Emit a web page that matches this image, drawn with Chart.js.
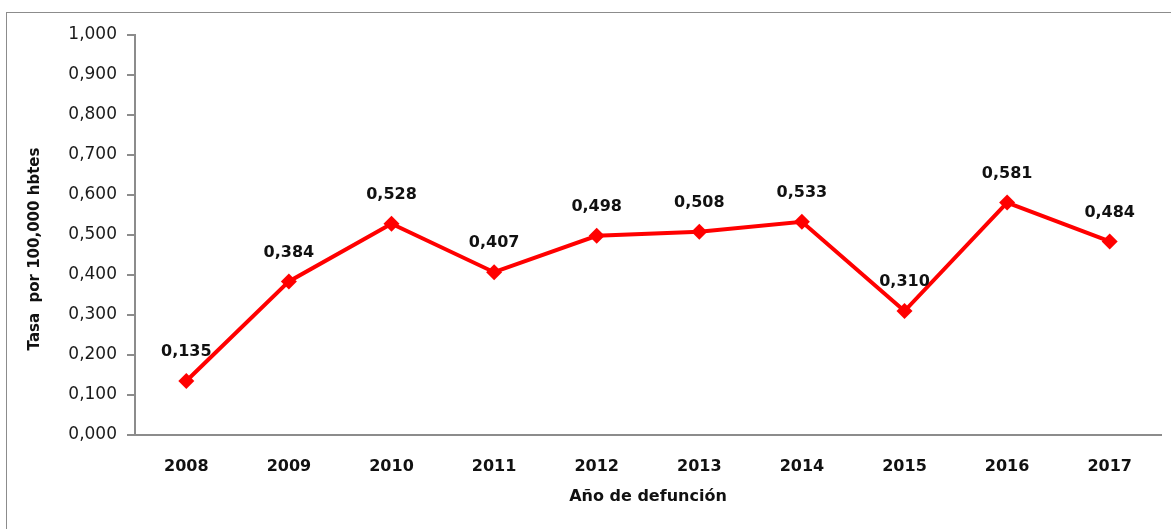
<!DOCTYPE html>
<html>
<head>
<meta charset="utf-8">
<script src="https://cdn.jsdelivr.net/npm/chart.js@4/dist/chart.umd.min.js"></script>
<style>
  html, body { margin: 0; padding: 0; background: #fff; overflow: hidden; }
  #frame { position: absolute; left: 6px; top: 12px; width: 1200px; height: 600px; border: 1px solid #8c8c8c; }
  #wrap { position: absolute; left: 0; top: 0; width: 1171px; height: 529px; }
</style>
</head>
<body>
<div id="frame"></div>
<div id="wrap"><canvas id="c" width="1171" height="529"></canvas></div>
<script>
const years = ['2008', '2009', '2010', '2011', '2012', '2013', '2014', '2015', '2016', '2017'];
const rates = [0.135, 0.384, 0.528, 0.407, 0.498, 0.508, 0.533, 0.310, 0.581, 0.484];
const yTitle = 'Tasa  por 100,000 hbtes';
const xTitle = 'Año de defunción';

const FONT = "'DejaVu Sans', Verdana, sans-serif";

function fmt(v) {
  return v.toFixed(3).replace('.', ',');
}

// value labels above points + axis titles
const labelsPlugin = {
  id: 'labels',
  afterDatasetsDraw(chart) {
    const ctx = chart.ctx;
    const meta = chart.getDatasetMeta(0);
    ctx.save();
    ctx.fillStyle = '#111';
    ctx.font = 'bold 16px ' + FONT;
    ctx.textAlign = 'center';
    ctx.textBaseline = 'middle';
    meta.data.forEach((pt, i) => {
      ctx.fillText(fmt(rates[i]), pt.x, pt.y - 29);
    });
    const a = chart.chartArea;
    ctx.font = 'bold 16px ' + FONT;
    ctx.fillText(xTitle, (a.left + a.right) / 2, a.bottom + 62);
    ctx.translate(35, (a.top + a.bottom) / 2 + 14);
    ctx.rotate(-Math.PI / 2);
    ctx.font = 'bold 15px ' + FONT;
    ctx.fillText(yTitle, 0, 0);
    ctx.restore();
  }
};

new Chart(document.getElementById('c'), {
  type: 'line',
  data: {
    labels: years,
    datasets: [{
      data: rates,
      borderColor: '#ff0000',
      backgroundColor: '#ff0000',
      borderWidth: 4,
      pointStyle: 'rectRot',
      pointRadius: 8,
      pointBorderWidth: 0,
      tension: 0
    }]
  },
  options: {
    responsive: false,
    animation: false,
    layout: { padding: { left: 0, top: 35, right: 10, bottom: 0 } },
    plugins: { legend: { display: false }, tooltip: { enabled: false } },
    scales: {
      x: {
        offset: true,
        grid: { display: false, drawTicks: false },
        border: { display: true, color: '#8c8c8c', width: 2 },
        ticks: { color: '#111', font: { family: FONT, size: 16, weight: 'bold' }, padding: 22, maxRotation: 0 },
        afterFit(scale) { scale.height = 94; }
      },
      y: {
        min: 0,
        max: 1,
        grid: { drawOnChartArea: false, tickLength: 8, color: '#8c8c8c', lineWidth: 2 },
        border: { display: true, color: '#8c8c8c', width: 2 },
        ticks: {
          stepSize: 0.1,
          padding: 10,
          color: '#1a1a1a',
          font: { family: FONT, size: 17 },
          callback: (v) => fmt(v)
        },
        afterFit(scale) { scale.width = 135; }
      }
    }
  },
  plugins: [labelsPlugin]
});
</script>
</body>
</html>
